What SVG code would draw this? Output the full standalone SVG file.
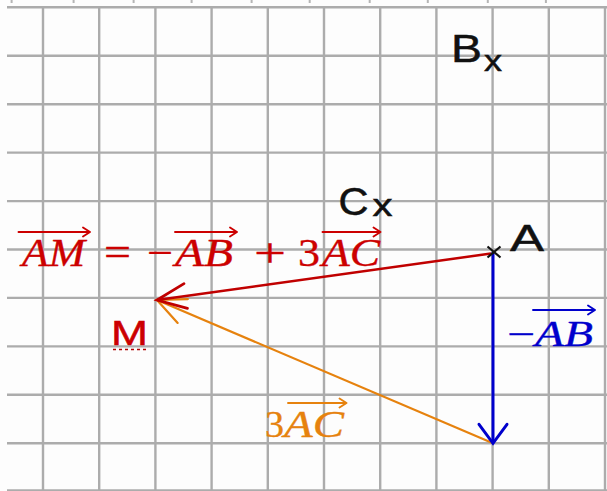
<svg xmlns="http://www.w3.org/2000/svg" width="607" height="491" viewBox="0 0 607 491">
<style>
.grid line{stroke:#acacac;stroke-width:2.4}
.tick line{stroke:#b5b5b5;stroke-width:2}
.lbl{font-family:"Liberation Sans",Arial,sans-serif;fill:#111;stroke:#111;stroke-width:0.5}
.math{font-family:"Liberation Serif","Times New Roman",serif;stroke-width:0.35}
.it{font-style:italic}
.red{fill:#cc0000;stroke:#cc0000}
.blue{fill:#0000cc;stroke:#0000cc}
.orange{fill:#e6820e;stroke:#e6820e}
.ovr{fill:none;stroke-width:1.9;stroke-linecap:round;stroke-linejoin:round}
</style>
<defs>
<marker id="ahR" markerUnits="userSpaceOnUse" orient="auto" refX="0" refY="0" markerWidth="40" markerHeight="40" overflow="visible">
<path d="M-29,-12.5 L0,0 L-29,12.5" fill="none" stroke="#c00000" stroke-width="2.8" stroke-linecap="round"/>
</marker>
<marker id="ahO" markerUnits="userSpaceOnUse" orient="auto" refX="0" refY="0" markerWidth="40" markerHeight="40" overflow="visible">
<path d="M-28,-13 L0,0 L-28,13" fill="none" stroke="#e6820e" stroke-width="2.2" stroke-linecap="round"/>
</marker>
<marker id="ahB" markerUnits="userSpaceOnUse" orient="auto" refX="0" refY="0" markerWidth="40" markerHeight="40" overflow="visible">
<path d="M-19,-14 L0,0 L-19,14" fill="none" stroke="#0000cc" stroke-width="3" stroke-linecap="round"/>
</marker>
</defs>
<rect width="607" height="491" fill="#fdfdfd"/>
<g class="tick">
<line x1="11.6" y1="0" x2="11.6" y2="3"/><line x1="73.6" y1="0" x2="73.6" y2="3"/><line x1="133.6" y1="0" x2="133.6" y2="3"/><line x1="191.6" y1="0" x2="191.6" y2="3"/><line x1="251.6" y1="0" x2="251.6" y2="3"/><line x1="309.7" y1="0" x2="309.7" y2="3"/><line x1="369.7" y1="0" x2="369.7" y2="3"/><line x1="427.8" y1="0" x2="427.8" y2="3"/><line x1="487.8" y1="0" x2="487.8" y2="3"/><line x1="545.9" y1="0" x2="545.9" y2="3"/>
</g>
<g class="grid">
<line x1="43" y1="7.3" x2="43" y2="491"/><line x1="99.2" y1="7.3" x2="99.2" y2="491"/><line x1="155.4" y1="7.3" x2="155.4" y2="491"/><line x1="211.6" y1="7.3" x2="211.6" y2="491"/><line x1="267.8" y1="7.3" x2="267.8" y2="491"/><line x1="324" y1="7.3" x2="324" y2="491"/><line x1="380.2" y1="7.3" x2="380.2" y2="491"/><line x1="436.4" y1="7.3" x2="436.4" y2="491"/><line x1="492.6" y1="7.3" x2="492.6" y2="491"/><line x1="548.8" y1="7.3" x2="548.8" y2="491"/><line x1="605" y1="7.3" x2="605" y2="491"/>
<line x1="7" y1="7.3" x2="607" y2="7.3"/><line x1="7" y1="55.7" x2="607" y2="55.7"/><line x1="7" y1="104.2" x2="607" y2="104.2"/><line x1="7" y1="152.6" x2="607" y2="152.6"/><line x1="7" y1="201.1" x2="607" y2="201.1"/><line x1="7" y1="249.5" x2="607" y2="249.5"/><line x1="7" y1="297.9" x2="607" y2="297.9"/><line x1="7" y1="346.4" x2="607" y2="346.4"/><line x1="7" y1="394.8" x2="607" y2="394.8"/><line x1="7" y1="443.3" x2="607" y2="443.3"/><line x1="7" y1="490.5" x2="607" y2="490.5"/>
</g>
<g id="connectors">
<line id="v3AC" x1="493" y1="443.3" x2="157" y2="300" stroke="#e6820e" stroke-width="2.2" marker-end="url(#ahO)"/>
<line id="vAM" x1="491" y1="253.5" x2="157" y2="300" stroke="#c00000" stroke-width="2.5" marker-end="url(#ahR)"/>
<line id="vmAB" x1="493" y1="252" x2="493" y2="443.3" stroke="#0000cc" stroke-width="3" marker-end="url(#ahB)"/>
</g>
<g id="pointA">
<path d="M487.5,246.5 L500.5,257.5 M500.5,246.5 L487.5,257.5" stroke="#111" stroke-width="2.2" fill="none"/>
<text class="lbl" x="510" y="251" font-size="37" textLength="34" lengthAdjust="spacingAndGlyphs">A</text>
</g>
<g id="pointB">
<text class="lbl" x="451" y="62" font-size="39" textLength="31" lengthAdjust="spacingAndGlyphs">B</text>
<text class="lbl" x="484" y="70.7" font-size="30" textLength="18" lengthAdjust="spacingAndGlyphs">x</text>
</g>
<g id="pointC">
<text class="lbl" x="338.5" y="215" font-size="38" textLength="30" lengthAdjust="spacingAndGlyphs">C</text>
<text class="lbl" x="372.5" y="216" font-size="32" textLength="20" lengthAdjust="spacingAndGlyphs">x</text>
</g>
<g id="pointM">
<text class="lbl red" x="111" y="345" font-size="35" textLength="37" lengthAdjust="spacingAndGlyphs" stroke-width="0.9">M</text>
<line x1="113" y1="349.5" x2="147" y2="349.5" stroke="#b00000" stroke-width="1.6" stroke-dasharray="3 3"/>
</g>
<g id="formula" class="red">
<text class="math it" x="22" y="266" font-size="40" textLength="63" lengthAdjust="spacingAndGlyphs">AM</text>
<path class="ovr" stroke="#cc0000" d="M18.5,232 H90 M83,227.5 L90,232 L83,236.5"/>
<text class="math" x="104" y="266" font-size="40" textLength="27" lengthAdjust="spacingAndGlyphs">=</text>
<text class="math" x="147" y="266" font-size="40" textLength="26" lengthAdjust="spacingAndGlyphs">−</text>
<text class="math it" x="175" y="266" font-size="40" textLength="58" lengthAdjust="spacingAndGlyphs">AB</text>
<path class="ovr" stroke="#cc0000" d="M175,232 H237 M230,227.5 L237,232 L230,236.5"/>
<text class="math" x="254" y="266" font-size="40" textLength="32" lengthAdjust="spacingAndGlyphs">+</text>
<text class="math" x="298" y="266" font-size="40" textLength="22" lengthAdjust="spacingAndGlyphs">3</text>
<text class="math it" x="322" y="266" font-size="40" textLength="58" lengthAdjust="spacingAndGlyphs">AC</text>
<path class="ovr" stroke="#cc0000" d="M322.5,232 H380.5 M373.5,227.5 L380.5,232 L373.5,236.5"/>
</g>
<g id="labelmAB" class="blue">
<text class="math" x="507" y="345.5" font-size="36" textLength="28" lengthAdjust="spacingAndGlyphs">−</text>
<text class="math it" x="535" y="345.5" font-size="36" textLength="58" lengthAdjust="spacingAndGlyphs">AB</text>
<path class="ovr" stroke="#0000cc" d="M533,310 H595 M588,305.5 L595,310 L588,314.5"/>
</g>
<g id="label3AC" class="orange">
<text class="math" x="265" y="436.5" font-size="37" textLength="19" lengthAdjust="spacingAndGlyphs">3</text>
<text class="math it" x="284" y="436.5" font-size="37" textLength="60" lengthAdjust="spacingAndGlyphs">AC</text>
<path class="ovr" stroke="#e6820e" d="M288,403 H346.5 M339.5,398.5 L346.5,403 L339.5,407.5"/>
</g>
</svg>
